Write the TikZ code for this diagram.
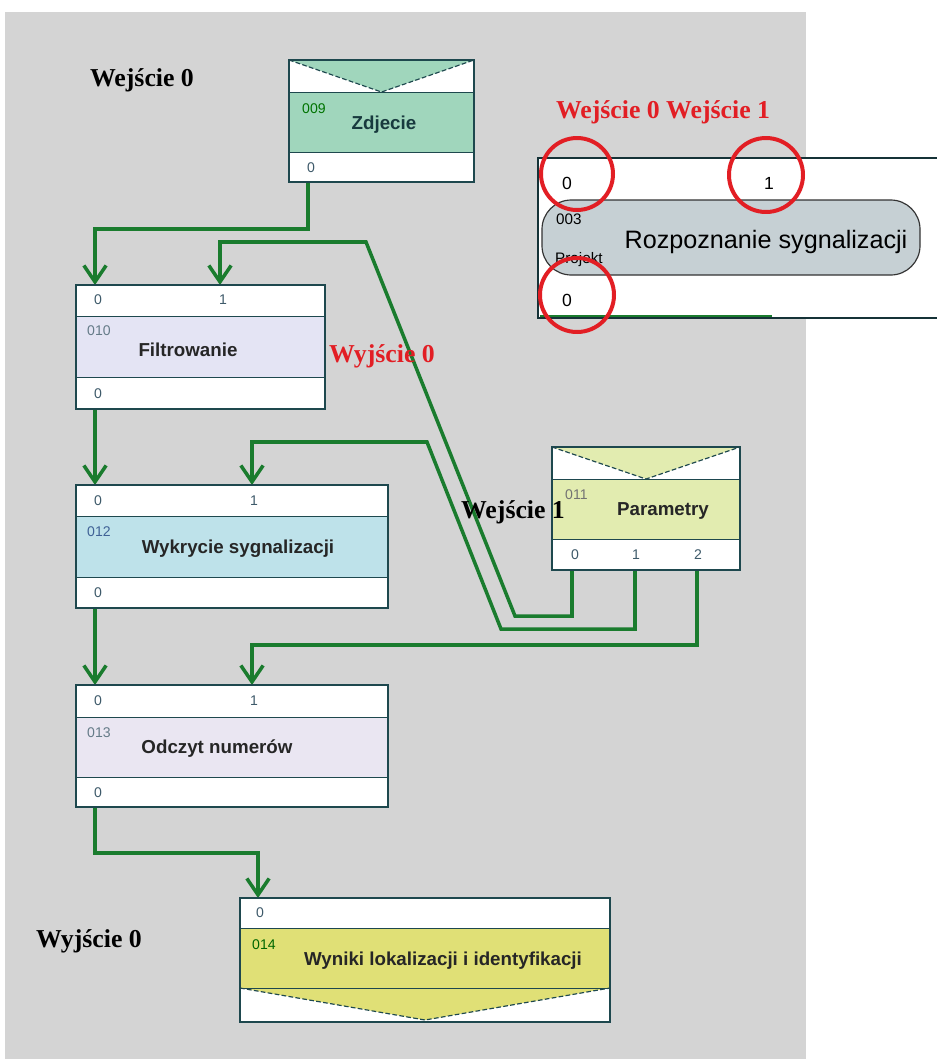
\documentclass[tikz,border=0pt]{standalone}
\usepackage{fontspec}
\setmainfont{Liberation Serif}
\newfontfamily\bloksans{Liberation Sans}
\usetikzlibrary{arrows.meta}

\definecolor{tlo}{RGB}{212,212,212}
\definecolor{ramkakol}{RGB}{30,72,78}
\definecolor{lacznik}{RGB}{26,124,46}
\definecolor{zdjkol}{RGB}{160,214,188}
\definecolor{filtrkol}{RGB}{228,228,244}
\definecolor{wykrkol}{RGB}{190,226,234}
\definecolor{odczkol}{RGB}{234,230,242}
\definecolor{paramkol}{RGB}{226,236,176}
\definecolor{wynikol}{RGB}{224,224,118}
\definecolor{projkol}{RGB}{198,208,212}
\definecolor{czerw}{RGB}{226,30,36}
\definecolor{portkol}{RGB}{62,90,106}

\tikzset{
  lacze/.style={draw=lacznik,line width=3pt},
  strz/.style={lacze,-{Straight Barb[length=14pt,width=19pt]}},
  ramka/.style={draw=ramkakol,line width=1.5pt},
  krata/.style={draw=ramkakol,line width=0.8pt},
  koperta/.style={draw=ramkakol,line width=1pt,dash pattern=on 4pt off 2pt},
  port/.style={font=\bloksans\fontsize{12}{12}\selectfont,text=portkol,inner sep=0pt},
  numer/.style={port,anchor=west},
  opis/.style={font=\bloksans\bfseries\fontsize{16}{17}\selectfont,text=black!85,inner sep=0pt},
  podpis/.style={font=\bfseries\fontsize{22}{22}\selectfont,inner sep=0pt},
  kolko/.style={draw=czerw,line width=3.4pt},
}

\begin{document}
\begin{tikzpicture}[x=0.03cm,y=-0.03cm]
\useasboundingbox (0,0) rectangle (937,1059);
\fill[tlo] (5,12) rectangle (806,1059);

% connector ends
\coordinate (z-wy0) at (308,182);
\coordinate (f-we0) at (95,285); \coordinate (f-we1) at (220,285); \coordinate (f-wy0) at (95,409);
\coordinate (w-we0) at (95,485); \coordinate (w-we1) at (252,485); \coordinate (w-wy0) at (95,608);
\coordinate (o-we0) at (95,685); \coordinate (o-we1) at (252,685); \coordinate (o-wy0) at (95,807);
\coordinate (p-wy0) at (572,570); \coordinate (p-wy1) at (635,570); \coordinate (p-wy2) at (697,570);
\coordinate (r-we0) at (258,898);

\draw[strz] (z-wy0) -- ++(0,47) -| (f-we0);
\draw[strz] (p-wy0) |- (515,616) -- (366,242) -| (f-we1);
\draw[strz] (p-wy1) |- (501,629) -- (427,442) -| (w-we1);
\draw[strz] (p-wy2) -- (697,645) -| (o-we1);
\draw[strz] (f-wy0) -- (w-we0);
\draw[strz] (w-wy0) -- (o-we0);
\draw[strz] (o-wy0) -- ++(0,46) -| (r-we0);

% Zdjecie
\fill[white] (289,60) rectangle (474,182);
\fill[zdjkol] (289,60) -- (381.5,92) -- (474,60) -- cycle;
\fill[zdjkol] (289,92) rectangle (474,152);
\draw[koperta] (289,60) -- (381.5,92) -- (474,60);
\draw[krata] (289,92) -- (474,92) (289,152) -- (474,152);
\draw[ramka] (289,60) rectangle (474,182);
\node[numer,text=green!45!black] (z-nr) at (302,109) {009};
\node[opis,text=ramkakol!80!black] (z-opis) at (384,125) {Zdjecie};
\node[port] (z-p0) at (311,168) {0};

% Filtrowanie
\fill[white] (76,285) rectangle (325,409);
\fill[filtrkol] (76,316) rectangle (325,377);
\draw[krata] (76,316) -- (325,316) (76,377) -- (325,377);
\draw[ramka] (76,285) rectangle (325,409);
\node[port] (f-p0) at (98,300) {0};
\node[port] (f-p1) at (223,300) {1};
\node[numer,text=portkol!80] (f-nr) at (87,331) {010};
\node[opis] (f-opis) at (188,350) {Filtrowanie};
\node[port] (f-p2) at (98,394) {0};

% Wykrycie sygnalizacji
\fill[white] (76,485) rectangle (388,608);
\fill[wykrkol] (76,516) rectangle (388,577);
\draw[krata] (76,516) -- (388,516) (76,577) -- (388,577);
\draw[ramka] (76,485) rectangle (388,608);
\node[port] (w-p0) at (98,501) {0};
\node[port] (w-p1) at (254,501) {1};
\node[numer,text=cyan!45!blue!70!black] (w-nr) at (87,532) {012};
\node[opis] (w-opis) at (238,549) {Wykrycie sygnalizacji};
\node[port] (w-p2) at (98,593) {0};

% Odczyt numerow
\fill[white] (76,685) rectangle (388,807);
\fill[odczkol] (76,717) rectangle (388,777);
\draw[krata] (76,717) -- (388,717) (76,777) -- (388,777);
\draw[ramka] (76,685) rectangle (388,807);
\node[port] (o-p0) at (98,701) {0};
\node[port] (o-p1) at (254,701) {1};
\node[numer,text=portkol!80] (o-nr) at (87,733) {013};
\node[opis] (o-opis) at (217,749) {Odczyt numerów};
\node[port] (o-p2) at (98,793) {0};

% Parametry
\fill[white] (552,447) rectangle (740,570);
\fill[paramkol] (552,447) -- (646,479) -- (740,447) -- cycle;
\fill[paramkol] (552,479) rectangle (740,539);
\draw[koperta] (552,447) -- (646,479) -- (740,447);
\draw[krata] (552,479) -- (740,479) (552,539) -- (740,539);
\draw[ramka] (552,447) rectangle (740,570);
\node[numer,text=black!55] (p-nr) at (565,495) {011};
\node[opis] (p-opis) at (663,511) {Parametry};
\node[port] (p-p0) at (575,555) {0};
\node[port] (p-p1) at (636,555) {1};
\node[port] (p-p2) at (698,555) {2};

% Wyniki
\fill[white] (240,898) rectangle (610,1022);
\fill[wynikol] (240,928) rectangle (610,988);
\fill[wynikol] (240,988) -- (425,1020) -- (610,988) -- cycle;
\draw[koperta] (240,988) -- (425,1020) -- (610,988);
\draw[krata] (240,928) -- (610,928) (240,988) -- (610,988);
\draw[ramka] (240,898) rectangle (610,1022);
\node[port] (r-p0) at (260,913) {0};
\node[numer,text=green!40!black] (r-nr) at (252,945) {014};
\node[opis] (r-opis) at (443,961) {Wyniki lokalizacji i identyfikacji};

% Rozpoznanie sygnalizacji
\fill[white] (538,158) rectangle (937,318);
\draw[ramkakol!70!black,line width=1pt] (937,158) -- (538,158) -- (538,318) -- (937,318);
\draw[lacznik,line width=1.2pt] (540,316) -- (772,316);
\draw[black!80,line width=1pt,fill=projkol,rounded corners=25] (542,200) rectangle (920,275);
\node[font=\bloksans\fontsize{15}{15}\selectfont,inner sep=0pt] (s-p0) at (567,183) {0};
\node[font=\bloksans\fontsize{15}{15}\selectfont,inner sep=0pt] (s-p1) at (769,183) {1};
\node[font=\bloksans\fontsize{13}{13}\selectfont,inner sep=0pt,anchor=west] (s-nr) at (556,219) {003};
\node[font=\bloksans\fontsize{13}{13}\selectfont,inner sep=0pt,anchor=west] (s-proj) at (555,260) {Projekt};
\node[font=\bloksans\fontsize{21.5}{22}\selectfont,inner sep=0pt] (s-opis) at (766,242) {Rozpoznanie sygnalizacji};
\node[font=\bloksans\fontsize{15}{15}\selectfont,inner sep=0pt] (s-p2) at (567,300) {0};
\draw[kolko] (577,174) circle (36);
\draw[kolko] (766,175) circle (37);
\draw[kolko] (577,295) circle (37);

% labels
\node[podpis] (l-we0) at (142,80) {Wejście 0};
\node[podpis,text=czerw] (l-we01) at (663,112) {Wejście 0 Wejście 1};
\node[podpis,text=czerw] (l-wy0) at (382,356) {Wyjście 0};
\node[podpis] (l-we1) at (513,512) {Wejście 1};
\node[podpis] (l-wy0b) at (89,941) {Wyjście 0};
\end{tikzpicture}
\end{document}
